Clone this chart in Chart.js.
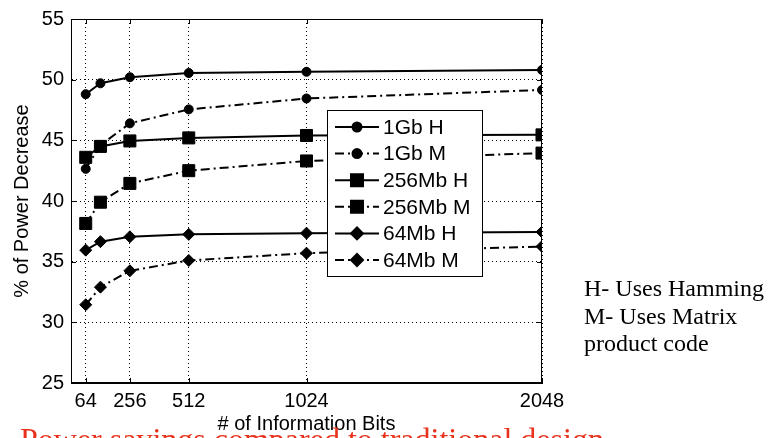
<!DOCTYPE html>
<html>
<head>
<meta charset="utf-8">
<script src="https://cdn.jsdelivr.net/npm/chart.js@4/dist/chart.umd.min.js"></script>
<style>
  html, body { margin: 0; padding: 0; background: #fff; }
  #wrap { position: relative; width: 768px; height: 438px; overflow: hidden; }
</style>
</head>
<body>
<div id="wrap"><canvas id="chart" width="768" height="438"></canvas></div>
<script>
const bits = [64, 128, 256, 512, 1024, 2048];
const xTickValues = [64, 256, 512, 1024, 2048];

const gb1H = [48.8, 49.7, 50.2, 50.55, 50.65, 50.8];
const gb1M = [42.65, 44.6, 46.4, 47.55, 48.45, 49.15];
const mb256H = [43.6, 44.5, 44.95, 45.2, 45.4, 45.45];
const mb256M = [38.15, 39.9, 41.45, 42.5, 43.3, 43.95];
const mb64H = [35.95, 36.65, 37.05, 37.25, 37.35, 37.45];
const mb64M = [31.45, 32.9, 34.25, 35.1, 35.7, 36.25];

const seriesLabels = ["1Gb H", "1Gb M", "256Mb H", "256Mb M", "64Mb H", "64Mb M"];
const noteLines = ["H- Uses Hamming", "M- Uses Matrix", "product code"];
const caption = "Power savings compared to traditional design";

const dashDot = [9, 4, 2, 4];

const makeSet = (label, values, marker, radius, dashed) => ({
  label: label,
  data: values.map((v, i) => ({ x: bits[i], y: v })),
  borderColor: "#000",
  backgroundColor: "#000",
  borderWidth: 2,
  borderDash: dashed ? dashDot : [],
  pointStyle: marker,
  pointRadius: radius,
  pointBorderWidth: 1,
  pointBorderColor: "#000",
  pointBackgroundColor: "#000",
  tension: 0,
});

// legend box, inner tick marks and text notes drawn by hand, MATLAB style
const extras = {
  id: "extras",
  afterDraw(chart) {
    const { ctx, chartArea } = chart;
    const xs = chart.scales.x, ys = chart.scales.y;
    ctx.save();
    // frame around plot
    ctx.strokeStyle = "#000";
    ctx.lineWidth = 1;
    ctx.strokeRect(chartArea.left + 0.5, chartArea.top + 0.5,
      chartArea.right - chartArea.left - 1, chartArea.bottom - chartArea.top - 1);

    // short tick marks pointing inward
    ctx.beginPath();
    xs.ticks.forEach((t) => {
      const px = Math.round(xs.getPixelForValue(t.value)) + 0.5;
      ctx.moveTo(px, chartArea.bottom); ctx.lineTo(px, chartArea.bottom - 5);
      ctx.moveTo(px, chartArea.top); ctx.lineTo(px, chartArea.top + 5);
    });
    ys.ticks.forEach((t) => {
      const py = Math.round(ys.getPixelForValue(t.value)) + 0.5;
      ctx.moveTo(chartArea.left, py); ctx.lineTo(chartArea.left + 5, py);
      ctx.moveTo(chartArea.right, py); ctx.lineTo(chartArea.right - 5, py);
    });
    ctx.stroke();

    // legend
    const lx = 327, ly = 110, lw = 155, lh = 166;
    ctx.fillStyle = "#fff";
    ctx.fillRect(lx, ly, lw, lh);
    ctx.strokeRect(lx + 0.5, ly + 0.5, lw, lh);
    ctx.font = "21px 'Liberation Sans', Arial, sans-serif";
    ctx.textBaseline = "middle";
    chart.data.datasets.forEach((ds, i) => {
      const y = ly + 17 + i * 26.6;
      ctx.strokeStyle = "#000";
      ctx.lineWidth = 2;
      ctx.setLineDash(ds.borderDash);
      ctx.beginPath();
      ctx.moveTo(lx + 8, y);
      ctx.lineTo(lx + 52, y);
      ctx.stroke();
      ctx.setLineDash([]);
      ctx.fillStyle = "#000";
      Chart.helpers.drawPoint(ctx, { pointStyle: ds.pointStyle, radius: ds.pointRadius, borderWidth: 1 }, lx + 30, y);
      ctx.fill();
      ctx.fillText(ds.label, lx + 56, y + 1);
    });

    // side notes
    ctx.fillStyle = "#000";
    ctx.textBaseline = "alphabetic";
    ctx.font = "24px 'Liberation Serif', 'Times New Roman', serif";
    noteLines.forEach((t, i) => ctx.fillText(t, 584, 296 + i * 27.5));

    // red caption, cut off at the bottom
    ctx.fillStyle = "#e8321c";
    ctx.font = "32px 'Liberation Serif', 'Times New Roman', serif";
    ctx.fillText(caption, 20, 450);
    ctx.restore();
  },
};

new Chart(document.getElementById("chart"), {
  type: "line",
  data: {
    datasets: [
      makeSet(seriesLabels[0], gb1H, "circle", 4.5, false),
      makeSet(seriesLabels[1], gb1M, "circle", 4.5, true),
      makeSet(seriesLabels[2], mb256H, "rect", 8.5, false),
      makeSet(seriesLabels[3], mb256M, "rect", 8.5, true),
      makeSet(seriesLabels[4], mb64H, "rectRot", 6, false),
      makeSet(seriesLabels[5], mb64M, "rectRot", 6, true),
    ],
  },
  options: {
    responsive: false,
    animation: false,
    layout: { padding: { top: 16, right: 226, left: 0, bottom: 0 } },
    plugins: { legend: { display: false }, tooltip: { enabled: false } },
    scales: {
      x: {
        type: "linear",
        min: 0,
        max: 2048,
        afterBuildTicks: (scale) => {
          scale.ticks = xTickValues.map((v) => ({ value: v }));
        },
        afterFit: (scale) => { scale.height = 55; },
        grid: { color: "#000", lineWidth: 1, drawTicks: false },
        border: { display: true, color: "#000", width: 1, dash: [1, 3] },
        ticks: {
          color: "#000",
          padding: 6,
          maxRotation: 0,
          autoSkip: false,
          callback: (v) => String(v),
          font: { family: "'Liberation Sans', Arial", size: 20 },
        },
        title: {
          display: true,
          text: "# of Information Bits",
          color: "#000",
          padding: { top: 0, bottom: 2 },
          font: { family: "'Liberation Sans', Arial", size: 20 },
        },
      },
      y: {
        min: 25,
        max: 55,
        afterFit: (scale) => { scale.width = 71; },
        grid: { color: "#000", lineWidth: 1, drawTicks: false },
        border: { display: true, color: "#000", width: 1, dash: [1, 3] },
        ticks: {
          stepSize: 5,
          color: "#000",
          padding: 7,
          font: { family: "'Liberation Sans', Arial", size: 20 },
        },
        title: {
          display: true,
          text: "% of Power Decrease",
          color: "#000",
          padding: { top: 10, bottom: 0 },
          font: { family: "'Liberation Sans', Arial", size: 20 },
        },
      },
    },
  },
  plugins: [extras],
});
</script>
</body>
</html>
